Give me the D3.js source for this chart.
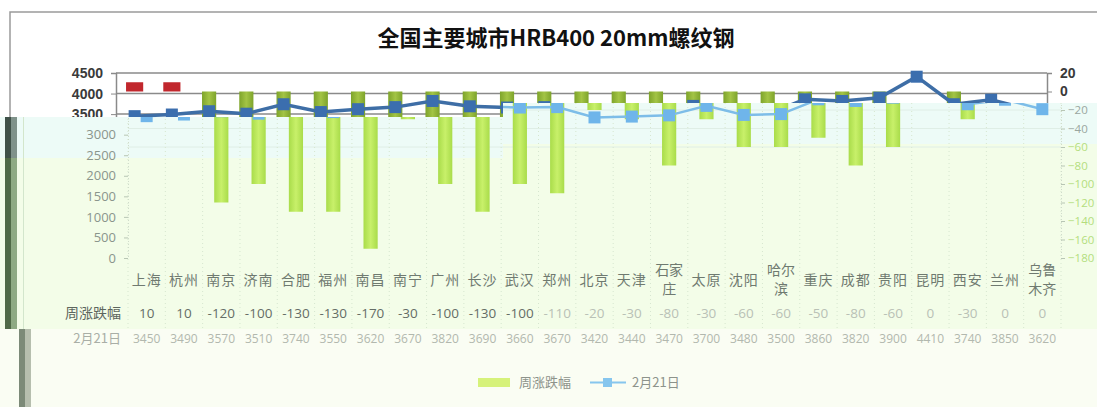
<!DOCTYPE html>
<html><head><meta charset="utf-8">
<script src="https://cdn.jsdelivr.net/npm/d3@7"></script>
<style>
html,body{margin:0;padding:0;background:#fff;}
svg{display:block;}
</style></head>
<body>
<svg id="c" width="1097" height="407"></svg>
<script>
const categories = ["上海","杭州","南京","济南","合肥","福州","南昌","南宁","广州","长沙","武汉","郑州","北京","天津","石家庄","太原","沈阳","哈尔滨","重庆","成都","贵阳","昆明","西安","兰州","乌鲁木齐"];
const weeklyChange = [10,10,-120,-100,-130,-130,-170,-30,-100,-130,-100,-110,-20,-30,-80,-30,-60,-60,-50,-80,-60,0,-30,0,0];
const price = [3450,3490,3570,3510,3740,3550,3620,3670,3820,3690,3660,3670,3420,3440,3470,3700,3480,3500,3860,3820,3900,4410,3740,3850,3620];
const leftTicksTop = [3500,4000,4500];
const leftTicksLow = [0,500,1000,1500,2000,2500,3000];
const rightTicksTop = [20,0];
const rightTicksLow = [-20,-40,-60,-80,-100,-120,-140,-160,-180];
const seriesNames = ["周涨跌幅","2月21日"];
const chartTitle = "全国主要城市HRB400 20mm螺纹钢";

const svg = d3.select("#c");
const CJK = "'Noto Sans CJK SC','Noto Sans',sans-serif";
const W = 1097, H = 407;
const splitX = 503, cutL = 117, cutR = 103;
const fmt = d3.format("d");

const yLeft = d3.scaleLinear().domain([0,4500]).range([258,73]);
const yRight = d3.scaleLinear().domain([-180,20]).range([258,73]);
const xTop = d3.scaleBand().domain(categories).range([116,1047]).paddingInner(0.62).paddingOuter(0.31);
const xLow = d3.scaleBand().domain(categories).range([128,1061]).paddingInner(0.62).paddingOuter(0.31);
const xTopCell = d3.scaleBand().domain(categories).range([116,1047]);
const xLowCell = d3.scaleBand().domain(categories).range([128,1061]);

const defs = svg.append("defs");
defs.append("clipPath").attr("id","clipTop").append("path")
  .attr("d",`M0,0H${W}V${cutR}H${splitX}V${cutL}H0Z`);
defs.append("clipPath").attr("id","clipLow").append("path")
  .attr("d",`M0,${cutL}H${splitX}V${cutR}H${W}V${H}H0Z`);
const gOlive = defs.append("linearGradient").attr("id","olive").attr("x1",0).attr("x2",1);
gOlive.append("stop").attr("offset",0).attr("stop-color","#7ea42b");
gOlive.append("stop").attr("offset",0.5).attr("stop-color","#a3c445");
gOlive.append("stop").attr("offset",1).attr("stop-color","#7ea42b");
const gLime = defs.append("linearGradient").attr("id","lime").attr("x1",0).attr("x2",1);
gLime.append("stop").attr("offset",0).attr("stop-color","#a9dc4a");
gLime.append("stop").attr("offset",0.5).attr("stop-color","#c8f06a");
gLime.append("stop").attr("offset",1).attr("stop-color","#a9dc4a");

/* ---------------- top (original) layer ---------------- */
const topG = svg.append("g").attr("clip-path","url(#clipTop)");
topG.append("rect").attr("x",0).attr("y",0).attr("width",W).attr("height",H).attr("fill","#fff");
topG.append("path").attr("d",`M10,${H}V12H${W}`).attr("fill","none").attr("stroke","#9a9a9a").attr("stroke-width",1.5);
topG.append("text").attr("x",556).attr("y",46).attr("text-anchor","middle")
  .attr("font-family",CJK).attr("font-weight","bold").attr("font-size",22).attr("fill","#111").text(chartTitle);
// gridlines
topG.selectAll("line.g").data(leftTicksTop).join("line")
  .attr("x1",116).attr("x2",1047).attr("y1",d=>yLeft(d)).attr("y2",d=>yLeft(d))
  .attr("stroke","#8a8a8a").attr("stroke-width",1.5);
// axes
const topAxisL = d3.axisLeft(yLeft).tickValues(leftTicksTop).tickFormat(fmt).tickSize(5).tickPadding(8);
const aL = topG.append("g").attr("transform","translate(116,0)").call(topAxisL);
const topAxisR = d3.axisRight(yRight).tickValues(rightTicksTop).tickFormat(fmt).tickSize(5).tickPadding(8);
const aR = topG.append("g").attr("transform","translate(1047,0)").call(topAxisR);
[aL,aR].forEach(a=>{
  a.select(".domain").attr("stroke","#8a8a8a").attr("stroke-width",1.5);
  a.selectAll(".tick line").attr("stroke","#8a8a8a");
  a.selectAll("text").attr("font-family","'Liberation Sans',Arial,sans-serif").attr("font-weight","bold")
   .attr("font-size",14).attr("fill","#3a3a3a");
});
// bars
topG.selectAll("rect.b").data(categories).join("rect")
  .attr("x",(d,i)=>xTop(d)-(weeklyChange[i]>0?1.5:0))
  .attr("width",(d,i)=>xTop.bandwidth()+(weeklyChange[i]>0?3:0))
  .attr("y",(d,i)=>yRight(Math.max(0,weeklyChange[i])))
  .attr("height",(d,i)=>Math.abs(yRight(weeklyChange[i])-yRight(0)))
  .attr("fill",(d,i)=>weeklyChange[i]>0?"#c1272d":"url(#olive)");
// line
const lineTop = d3.line().x((d,i)=>xTopCell(categories[i])+xTopCell.bandwidth()/2).y(d=>yLeft(d));
topG.append("path").attr("d",lineTop(price)).attr("fill","none").attr("stroke","#3e6ea6").attr("stroke-width",3.5);
topG.selectAll("rect.m").data(price).join("rect")
  .attr("x",(d,i)=>xTopCell(categories[i])+xTopCell.bandwidth()/2-6).attr("y",d=>yLeft(d)-6)
  .attr("width",12).attr("height",12).attr("fill","#3b6eae");

/* ---------------- lower (washed) layer ---------------- */
const lowG = svg.append("g").attr("clip-path","url(#clipLow)");
// background tints
lowG.append("rect").attr("x",0).attr("y",cutL).attr("width",splitX).attr("height",158-cutL).attr("fill","#edfbf7");
lowG.append("rect").attr("x",0).attr("y",158).attr("width",splitX).attr("height",329-158).attr("fill","#f3fde8");
lowG.append("rect").attr("x",splitX).attr("y",cutR).attr("width",W-splitX).attr("height",144-cutR).attr("fill","#edfbf7");
lowG.append("rect").attr("x",splitX).attr("y",144).attr("width",W-splitX).attr("height",329-144).attr("fill","#f3fde8");
lowG.append("rect").attr("x",0).attr("y",329).attr("width",W).attr("height",H-329).attr("fill","#fafdf3");
// left strips
lowG.append("rect").attr("x",5).attr("y",117).attr("width",6).attr("height",41).attr("fill","#3f5148");
lowG.append("rect").attr("x",11).attr("y",117).attr("width",6).attr("height",41).attr("fill","#7f928a");
lowG.append("rect").attr("x",5).attr("y",158).attr("width",6).attr("height",171).attr("fill","#4f6a46");
lowG.append("rect").attr("x",11).attr("y",158).attr("width",6).attr("height",171).attr("fill","#8eaa83");
lowG.append("rect").attr("x",19).attr("y",329).attr("width",6).attr("height",78).attr("fill","#7c8a78");
lowG.append("rect").attr("x",25).attr("y",329).attr("width",6).attr("height",78).attr("fill","#b6beae");
lowG.append("line").attr("x1",23.5).attr("x2",23.5).attr("y1",117).attr("y2",329).attr("stroke","#d3e6cc");
// faint grid
lowG.selectAll("line.g").data(rightTicksLow.filter(d=>d>=-60)).join("line")
  .attr("x1",128).attr("x2",1061).attr("y1",d=>yRight(d)).attr("y2",d=>yRight(d))
  .attr("stroke","#dfeee6").attr("stroke-width",1);
// vertical dotted separators (plot + table)
lowG.selectAll("line.v").data(d3.range(categories.length+1)).join("line")
  .attr("x1",i=>128+i*xLowCell.step()).attr("x2",i=>128+i*xLowCell.step())
  .attr("y1",cutR).attr("y2",330)
  .attr("stroke","#d6e6cf").attr("stroke-dasharray","1,3");
// axes
const lowAxisL = d3.axisLeft(yLeft).tickValues(leftTicksLow).tickFormat(fmt).tickSize(4).tickPadding(8);
const bL = lowG.append("g").attr("transform","translate(128,0)").call(lowAxisL);
const lowAxisR = d3.axisRight(yRight).tickValues(rightTicksLow).tickFormat(fmt).tickSize(4).tickPadding(3);
const bR = lowG.append("g").attr("transform","translate(1061,0)").call(lowAxisR);
[bL,bR].forEach(a=>{
  a.select(".domain").attr("stroke","#d0dccb").attr("stroke-dasharray","1,2");
  a.selectAll(".tick line").attr("stroke","#b8c6b4");
  a.selectAll("text").attr("font-family","'Open Sans',sans-serif").attr("font-size",13);
});
bR.selectAll("text").attr("font-size",11.5);
bL.selectAll("text").attr("fill","#8a958c");
bR.selectAll("text").attr("fill",d=>d>=-40?"#9aa6a0":"#b3dd7e");
// bars
lowG.selectAll("rect.b").data(categories).join("rect")
  .attr("x",d=>xLow(d)).attr("width",xLow.bandwidth())
  .attr("y",(d,i)=>yRight(Math.max(0,weeklyChange[i])))
  .attr("height",(d,i)=>Math.abs(yRight(weeklyChange[i])-yRight(0)))
  .attr("fill",(d,i)=>weeklyChange[i]>0?"#7fc4ec":"url(#lime)");
// line
const lineLow = d3.line().x((d,i)=>xLowCell(categories[i])+xLowCell.bandwidth()/2).y(d=>yLeft(d));
lowG.append("path").attr("d",lineLow(price)).attr("fill","none").attr("stroke","#7dbde8").attr("stroke-width",2.5);
lowG.selectAll("rect.m").data(price).join("rect")
  .attr("x",(d,i)=>xLowCell(categories[i])+xLowCell.bandwidth()/2-6).attr("y",d=>yLeft(d)-6)
  .attr("width",12).attr("height",12).attr("fill","#6fb5ea");
// category labels
const catLabels = lowG.append("g").attr("font-family",CJK).attr("font-size",14).attr("fill","#6f7a70").attr("text-anchor","middle");
categories.forEach((c,i)=>{
  const cx = xLowCell(c)+xLowCell.bandwidth()/2;
  if (c.length>2){
    catLabels.append("text").attr("x",cx).attr("y",275).text(c.slice(0,2));
    catLabels.append("text").attr("x",cx).attr("y",294).text(c.slice(2));
  } else {
    catLabels.append("text").attr("x",cx).attr("y",285).attr("letter-spacing",1).text(c);
  }
});
// data table rows
lowG.append("text").attr("x",121).attr("y",318).attr("text-anchor","end").attr("font-family",CJK).attr("font-size",14)
  .attr("fill","#5d665e").text(seriesNames[0]);
lowG.append("text").attr("x",121).attr("y",343).attr("text-anchor","end").attr("font-family",CJK).attr("font-size",13)
  .attr("fill","#a9aea6").text(seriesNames[1]);
lowG.append("g").selectAll("text").data(weeklyChange).join("text")
  .attr("x",(d,i)=>xLowCell(categories[i])+xLowCell.bandwidth()/2).attr("y",318)
  .attr("text-anchor","middle").attr("font-family","'Open Sans',sans-serif").attr("font-size",13.5)
  .attr("fill",(d,i)=>i<11?"#656d66":"#b9c1b6").text(d=>d);
lowG.append("g").selectAll("text").data(price).join("text")
  .attr("x",(d,i)=>xLowCell(categories[i])+xLowCell.bandwidth()/2).attr("y",343)
  .attr("text-anchor","middle").attr("font-family","'Open Sans',sans-serif").attr("font-size",12)
  .attr("fill","#b2b8ae").text(d=>d);
// legend
const lg = lowG.append("g").attr("font-family",CJK).attr("font-size",13).attr("fill","#8d938b");
lg.append("rect").attr("x",478).attr("y",378).attr("width",32).attr("height",9).attr("fill","#d6f27a");
lg.append("text").attr("x",519).attr("y",387).text(seriesNames[0]);
lg.append("line").attr("x1",590).attr("x2",626).attr("y1",382.5).attr("y2",382.5).attr("stroke","#86c6ee").attr("stroke-width",2);
lg.append("rect").attr("x",603).attr("y",378).attr("width",9).attr("height",9).attr("fill","#86c6ee");
lg.append("text").attr("x",632).attr("y",387).text(seriesNames[1]);
</script>
</body></html>
